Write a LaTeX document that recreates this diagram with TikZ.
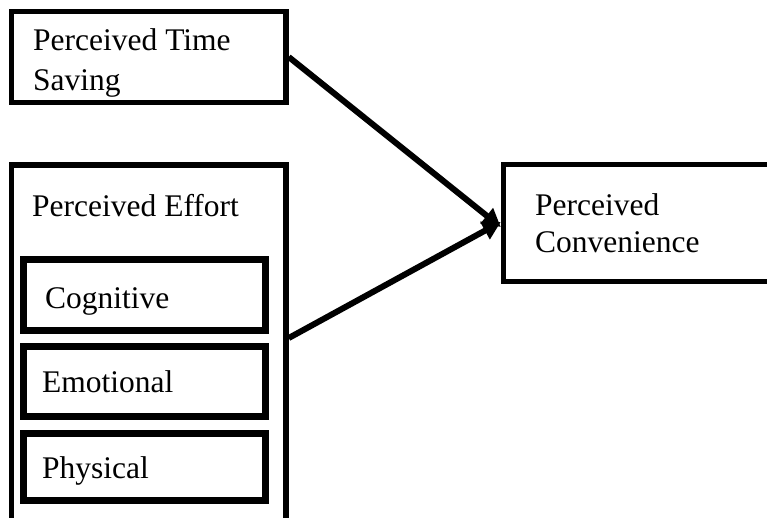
\documentclass[tikz,border=0pt]{standalone}
\usepackage{fontspec}
\setmainfont{Liberation Serif}
\usetikzlibrary{arrows.meta}
\begin{document}
\begin{tikzpicture}[x=1pt,y=-1pt,
  outerbox/.style={draw, rectangle, line width=5.5pt, inner sep=0pt},
  innerbox/.style={draw, rectangle, line width=7pt, inner sep=0pt},
  lbl/.style={anchor=base west, inner sep=0pt, font=\fontsize{31.5}{40}\selectfont},
  conn/.style={line width=6pt, -{Triangle[length=18pt,width=19pt]}}]
\useasboundingbox (0,0) rectangle (767,517);
% boxes
\node[outerbox, minimum width=274.5pt, minimum height=91pt] (ts) at (148.75,57) {};
\node[outerbox, minimum width=274.5pt, minimum height=380pt] (pe) at (148.75,355) {};
\node[outerbox, minimum width=296.5pt, minimum height=117pt] (pc) at (651.75,223) {};
\node[innerbox, minimum width=241.5pt, minimum height=70.5pt] (cog) at (144.25,294.75) {};
\node[innerbox, minimum width=241.5pt, minimum height=70pt] (emo) at (144.25,381.5) {};
\node[innerbox, minimum width=241.5pt, minimum height=67pt] (phy) at (144.25,466.5) {};
% labels
\node[lbl] (tsa) at (33,50) {Perceived Time};
\node[lbl] (tsb) at (33,90) {Saving};
\node[lbl] (pel) at (32,216) {Perceived Effort};
\node[lbl] (cogl) at (45,308) {Cognitive};
\node[lbl] (emol) at (42,392) {Emotional};
\node[lbl] (phyl) at (42,478) {Physical};
\node[lbl] (pca) at (535,215) {Perceived};
\node[lbl] (pcb) at (535,252) {Convenience};
% connectors
\coordinate (pes) at (pe.east |- 0,338);
\draw[conn] (ts.east) -- ([yshift=-4pt]pc.west);
\draw[conn] (pes) -- ([yshift=1pt]pc.west);
\end{tikzpicture}
\end{document}
